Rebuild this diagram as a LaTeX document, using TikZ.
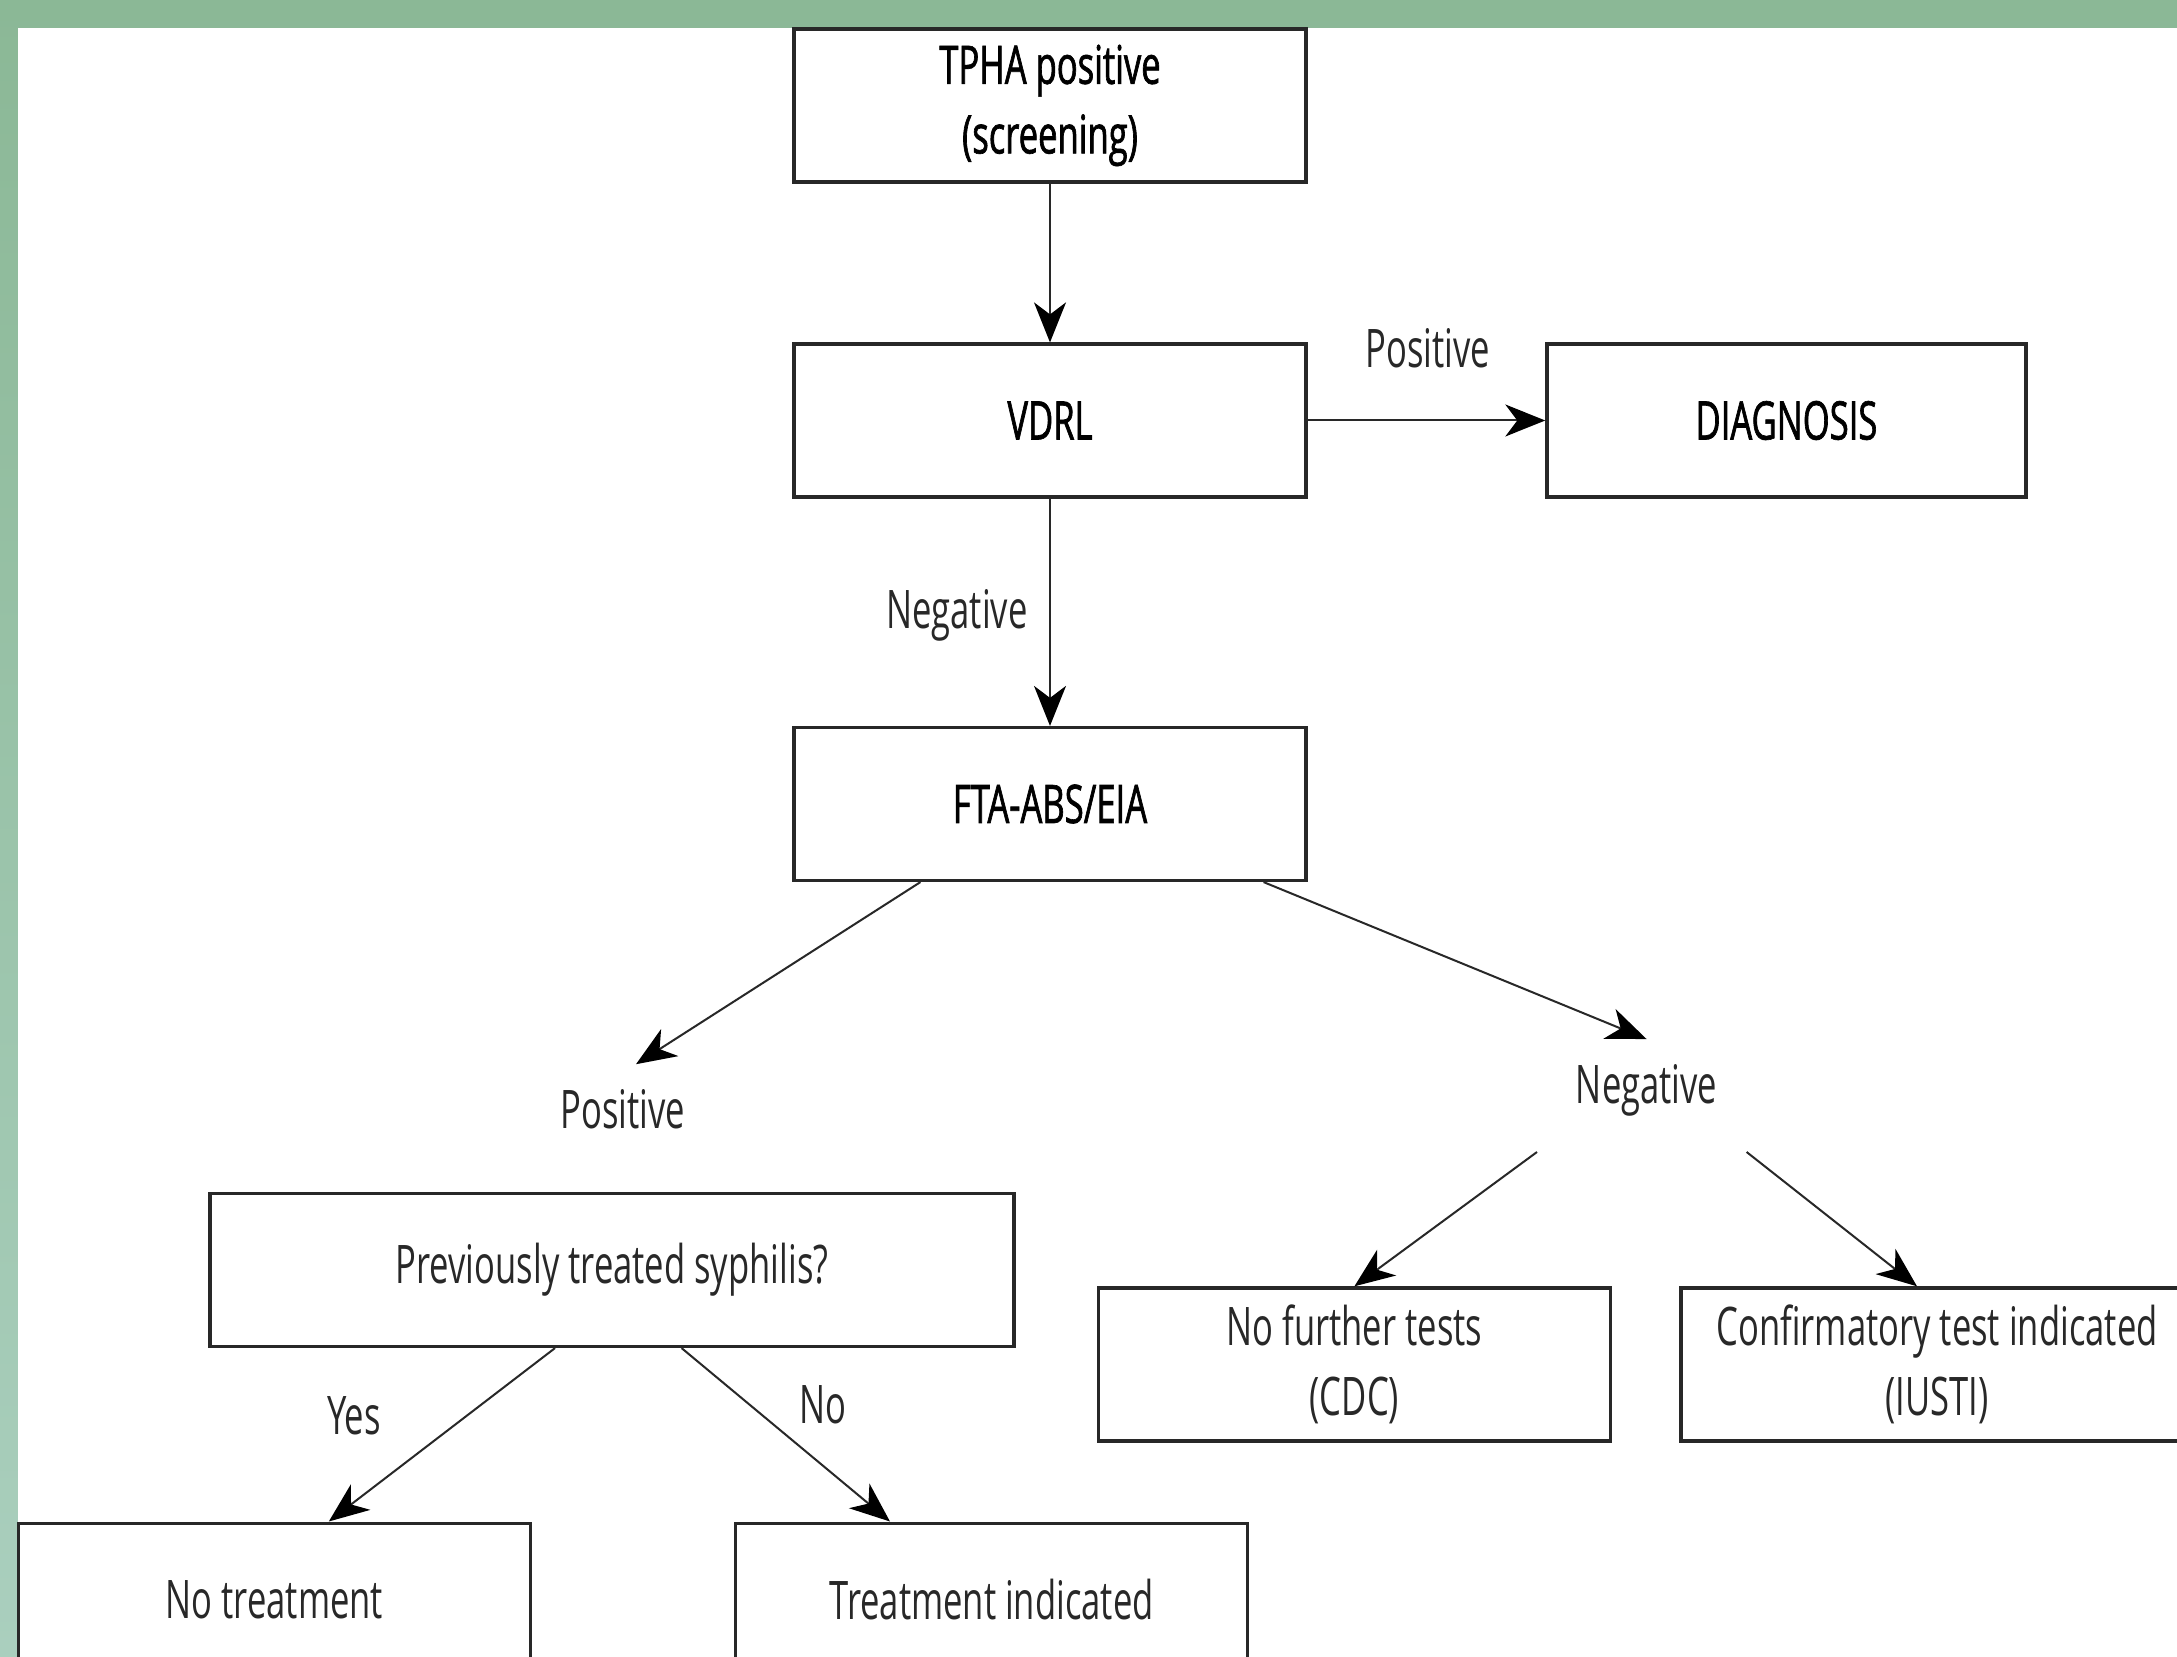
\documentclass[tikz,border=0pt]{standalone}
\usepackage{fontspec}
\setmainfont{Open Sans}[FakeStretch=0.65]
\newfontfamily\headfont{Open Sans}[FakeStretch=0.65,FakeBold=1.2]
\usepackage{tikz}
\usetikzlibrary{arrows.meta}
\definecolor{bandtop}{RGB}{139,184,150}
\definecolor{bandbot}{RGB}{170,207,190}
\definecolor{ink}{RGB}{40,40,40}

\begin{document}
\begin{tikzpicture}[->,>={Stealth[length=10pt,width=8pt,inset=3pt,color=black,fill=black]},line width=.5pt,draw=ink,text=ink]
		\tikzstyle{testbox}=[rectangle,draw,line width=.8pt,minimum width=128pt,minimum height=38.25pt,
			align=center,font=\fontsize{13.3pt}{17.4pt}\selectfont];
		\tikzstyle{headbox}=[testbox,text=black,font=\headfont\fontsize{13.3pt}{17.4pt}\selectfont];
		\tikzstyle{answer}=[font=\fontsize{13.3pt}{17.4pt}\selectfont,inner sep=6pt];

		\useasboundingbox(0,0)rectangle(544.25pt,-414.25pt);
		\shade[-,top color=bandtop,bottom color=bandbot](0,0)rectangle(544.25pt,-414.25pt);
		\fill[-,white](4.5pt,-7pt)rectangle(548pt,-418pt);

		\node[headbox](0) at (262.5pt,-26.375pt){TPHA positive\\(screening)};
		\node[headbox,below of=0,node distance=78.75pt](1){VDRL};
		\node[headbox,right of=1,node distance=184.1pt,minimum width=119.75pt](11){DIAGNOSIS};
		\node[headbox,below of=1,node distance=95.875pt](2){FTA-ABS/EIA};
		\node[answer](1p) at (357pt,-87pt){Positive};
		\node[answer](1n) at (239.25pt,-153.75pt){Negative};
		\draw(0)--(1);
		\draw(1)--(11);
		\draw(1)--(2);

		\node[answer](21) at (155.75pt,-277.25pt){Positive};
		\node[answer](22) at (411.65pt,-272.5pt){Negative};
		\draw([xshift=-32.4pt]2.south)--([xshift=3.25pt]21.north);
		\draw([xshift=53.4pt]2.south)--(22.north);

		\node[testbox,minimum width=201pt](211) at (153pt,-317.5pt){Previously treated syphilis?};
		\node[testbox](221) at (338.6pt,-341.1pt){No further tests\\(CDC)};
		\node[testbox,right of=221,node distance=145.65pt](222){Confirmatory test indicated\\(IUSTI)};
		\draw([shift={(-27.4pt,-15.5pt)}]22.center)--(221.north);
		\draw([shift={(25pt,-15.5pt)}]22.center)--([xshift=-5pt]222.north);

		\node[testbox](2111) at (68.6pt,-399.9pt){No treatment};
		\node[testbox,right of=2111,node distance=179.3pt](2112){Treatment indicated};
		\node[answer](21y) at (88.5pt,-354pt){Yes};
		\node[answer](21n) at (205.75pt,-351.25pt){No};
		\draw([xshift=-14.25pt]211.south)--([xshift=13.6pt]2111.north);
		\draw([xshift=17.4pt]211.south)--([xshift=-25.4pt]2112.north);
	\end{tikzpicture}
\end{document}
